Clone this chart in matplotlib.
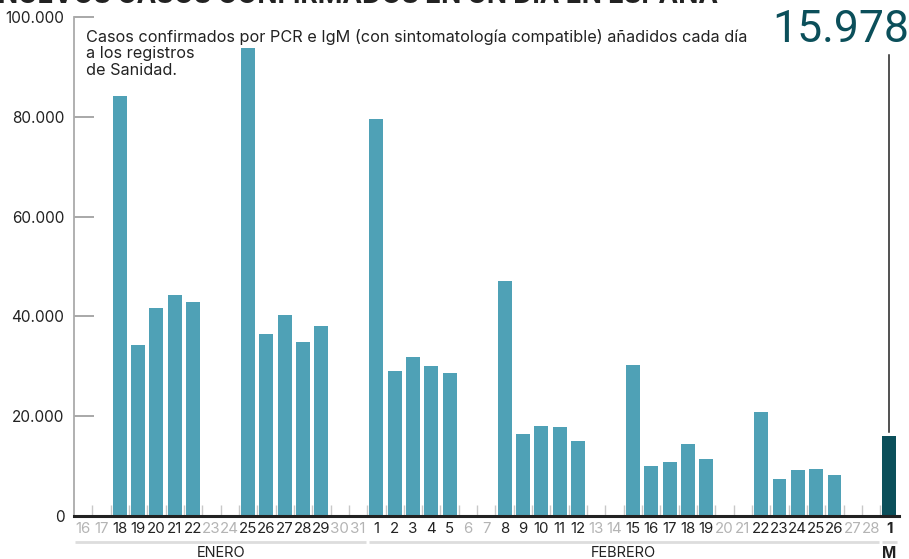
import matplotlib
matplotlib.use("Agg")
import matplotlib.pyplot as plt
import numpy as np

plt.rcParams['font.family'] = ['Inter', 'DejaVu Sans']

# ---- data ----
days = ["16", "17", "18", "19", "20", "21", "22", "23", "24", "25", "26", "27", "28", "29", "30", "31",
        "1", "2", "3", "4", "5", "6", "7", "8", "9", "10", "11", "12", "13", "14", "15", "16", "17", "18",
        "19", "20", "21", "22", "23", "24", "25", "26", "27", "28", "1"]
weekend = [1, 1, 0, 0, 0, 0, 0, 1, 1, 0, 0, 0, 0, 0, 1, 1,
           0, 0, 0, 0, 0, 1, 1, 0, 0, 0, 0, 0, 1, 1, 0, 0, 0, 0,
           0, 1, 1, 0, 0, 0, 0, 0, 1, 1, 0]
cases = [0, 0, 84200, 34200, 41600, 44200, 42800, 0, 0, 93800, 36400, 40200, 34800, 38000, 0, 0,
         79600, 29000, 31800, 30000, 28600, 0, 0, 47000, 16400, 18000, 17800, 15000, 0, 0, 30200, 10000, 10800, 14400,
         11400, 0, 0, 20800, 7400, 9200, 9400, 8200, 0, 0, 15978]
months = ["ENERO", "FEBRERO", "M"]
month_spans = [(0, 15), (16, 43), (44, 44)]
yticks = [0, 20000, 40000, 60000, 80000, 100000]
ytick_labels = ["0", "20.000", "40.000", "60.000", "80.000", "100.000"]
title = "NUEVOS CASOS CONFIRMADOS EN UN DÍA EN ESPAÑA"
note = "Casos confirmados por PCR e IgM (con sintomatología compatible) añadidos cada día\na los registros\nde Sanidad."
big_label = "15.978"

W, H = 909, 559
fig = plt.figure(figsize=(W / 100, H / 100), dpi=100)
x0, x1 = 74, 898.6
ytop, ybot = 17, 516
ax = fig.add_axes([x0 / W, (H - ybot) / H, (x1 - x0) / W, (ybot - ytop) / H])

x = np.arange(len(cases))
colors = ["#4fa1b6"] * len(cases)
colors[-1] = "#0b4f5a"
ax.bar(x, cases, width=0.76, color=colors, zorder=2)

ax.set_xlim(-0.5, len(cases) - 0.5)
ax.set_ylim(0, 100000)

for s in ["top", "right"]:
    ax.spines[s].set_visible(False)
ax.spines["left"].set_color("#aaaaaa")
ax.spines["left"].set_linewidth(1.3)
ax.spines["bottom"].set_color("#222222")
ax.spines["bottom"].set_linewidth(2.2)
ax.spines["bottom"].set_zorder(3)

# y ticks
ax.set_yticks(yticks)
ax.set_yticklabels(ytick_labels, fontsize=11, color="#222222")
ax.tick_params(axis="y", direction="in", length=14.5, width=1.2, color="#999999", pad=7)

# x ticks: labels at centers, tick marks at boundaries
ax.set_xticks(x)
ax.set_xticklabels(days, fontsize=10.8)
ax.tick_params(axis="x", which="major", length=0, pad=4)
ax.set_xticks(np.arange(len(cases) - 1) + 0.5, minor=True)
ax.tick_params(axis="x", which="minor", direction="in", length=8, width=1.0, color="#c8c8c8")
for lbl, w in zip(ax.get_xticklabels(), weekend):
    lbl.set_color("#b4b4b4" if w else "#222222")
xl = ax.get_xticklabels()
xl[-1].set_fontweight("bold")

# month group lines and labels
trans = ax.get_xaxis_transform()
line_y = -(542 - ybot) / (ybot - ytop)
lab_y = -(553 - ybot) / (ybot - ytop)
for name, (a, b) in zip(months, month_spans):
    ax.plot([a - 0.42, b + 0.42], [line_y, line_y], transform=trans, color="#dddddd",
            lw=2, clip_on=False, solid_capstyle="butt")
    ax.text((a + b) / 2, lab_y, name, transform=trans, ha="center", va="center",
            fontsize=10.5 if name != "M" else 11,
            fontweight="bold" if name == "M" else "normal", color="#222222", clip_on=False)

# note text
fig.text(86 / W, 1 - 29 / H, note, fontsize=11.7, color="#222222", va="top", ha="left",
         linespacing=1.12)

# title (mostly cropped at the top)
fig.text(-2 / W, 1 - 3 / H, title, fontsize=19, fontweight="bold", color="#222222",
         va="baseline", ha="left")

# big number and leader line
fig.text(909 / W, 1 - 30 / H, big_label, fontsize=32, color="#0b4f5a", ha="right", va="center",
         family=["Roboto", "DejaVu Sans"])
ax.plot([x[-1], x[-1]], [cases[-1] + 800, (ybot - 55) / (ybot - ytop) * 100000],
        color="#222222", lw=1.1, clip_on=False, zorder=3)

fig.savefig("out.png", dpi=100)
